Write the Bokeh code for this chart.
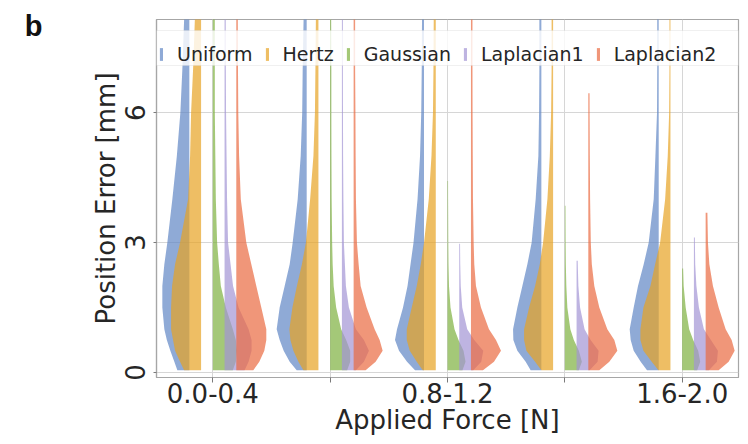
import numpy as np
from bokeh.plotting import figure
from bokeh.models import (ColumnDataSource, FixedTicker, Legend, LegendItem,
                          LinearAxis, Range1d, BoxAnnotation)
from bokeh.embed import file_html
from bokeh.resources import INLINE

# ---------------- data ----------------
force_bins = ["0.0-0.4", "0.4-0.8", "0.8-1.2", "1.2-1.6", "1.6-2.0"]
shown_tick_labels = ["0.0-0.4", "", "0.8-1.2", "", "1.6-2.0"]
models = ["Uniform", "Hertz", "Gaussian", "Laplacian1", "Laplacian2"]
y_ticks = [0, 3, 6]
panel_letter = "b"

# error levels [mm] at which the half-violin density widths were read
err_levels = [0.05, 0.25, 0.5, 0.75, 1.0, 1.5, 2.0, 2.5, 3.0, 4.0, 5.0, 6.0, 7.0, 8.3]

# density (half-width) profiles, one list per force bin
uniform_density = [
    [12, 15, 19, 22.5, 25, 27, 27, 25, 22, 17, 12.5, 9, 7, 5],
    [10, 17, 23, 27, 30, 27, 22, 17, 14, 9, 6, 4.5, 4, 3],
    [9, 17, 25, 29, 27, 21, 16.5, 13.5, 10.5, 6.5, 4, 2.8, 2.3, 2],
    [10.7, 15.7, 24, 28, 28.3, 24, 19, 14, 9.7, 5.7, 3, 2.3, 2, 2],
    [11.7, 18, 25, 28, 29, 25, 20.7, 15, 10, 5, 3.3, 1.7, 1.5, 1.5],
]
hertz_density = [
    [17, 21, 26, 28, 30, 30, 29, 26, 21, 13, 11, 10, 8, 6],
    [15, 20, 25, 28, 29, 26, 21.5, 16.5, 12.5, 8.3, 5, 3.5, 3, 2.5],
    [13, 19, 26, 29, 29, 24, 19, 15, 11.7, 7, 4.3, 2.8, 2.3, 2],
    [11.7, 18, 26.7, 29, 29, 24, 18, 13.3, 10, 5.7, 3.3, 2, 1.5, 1.5],
    [12, 18.7, 27, 30, 30, 27, 20, 15.3, 10.3, 5.3, 2.7, 1.3, 1, 1],
]
gaussian_density = [
    [20, 23, 24, 23, 20, 13, 8, 6, 4.3, 3, 2.5, 2, 2, 2],
    [17, 20, 20, 16, 11, 6, 3.5, 2.5, 2, 1.5, 1.3, 1.2, 1.2, 1],
    [15, 18, 16, 11, 7, 3, 1.5, 1, 0.8, 0.6, 0.5],
    [14, 17, 14, 9, 5.5, 2.5, 1.5, 1, 0.8, 0.6],
    [15, 18, 16, 11, 7, 3.5, 1.5, 0.8],
]
laplacian1_density = [
    [20, 24, 27, 27, 24, 14, 8.5, 6, 3.5, 2.5, 2, 1.5, 1.3, 1.2],
    [14, 22, 27, 22, 14, 7, 4, 3, 2, 1.5, 1.2, 1.1, 1, 1],
    [14, 22, 24, 15, 8, 3, 1.5, 1, 0.8],
    [13, 21, 22, 14, 8, 3.5, 1.8, 1.2, 1.0],
    [15, 23, 24, 17, 10, 5, 2.5, 1.3, 1.0, 0.8],
]
laplacian2_density = [
    [17, 23, 28, 30, 30, 25, 20, 15, 10, 4.5, 2.8, 2, 1.7, 1.5],
    [12, 22, 29, 26, 21, 13, 7, 5, 3.3, 2.3, 2, 1.8, 1.5, 1.5],
    [12, 23, 30, 25, 18, 10, 5, 3.3, 2.7, 2, 1.8, 1.6, 1.5, 1.5],
    [11, 21, 29, 26, 19, 11, 6, 3.5, 2.5, 1.8, 1.5, 1.3, 1.2],
    [13, 23, 29, 26, 20, 13, 7.3, 3.7, 2.3, 1.5],
]
# largest error of each violin [mm] (8.3 = runs past the top of the axis)
uniform_max = [8.3, 8.3, 8.3, 8.3, 8.3]
hertz_max = [8.3, 8.3, 8.3, 8.3, 8.3]
gaussian_max = [8.3, 8.3, 4.42, 3.85, 2.4]
laplacian1_max = [8.3, 8.3, 2.97, 2.58, 3.12]
laplacian2_max = [8.3, 8.3, 8.3, 6.45, 3.69]

# ---------------- styling ----------------
colors = ["#5f86c4", "#e7a222", "#7db03e", "#a294d4", "#ea6a40"]
offsets = [-0.2, -0.1, 0.0, 0.1, 0.2]
sides = [-1, -1, 1, 1, 1]
DENS_SCALE = 1.0 / 117.25
FONT = "DejaVu Sans"
TXT = "#262626"
X0, X1, Y0, Y1 = -0.48, 4.48, -0.115, 8.15

all_density = [uniform_density, hertz_density, gaussian_density,
               laplacian1_density, laplacian2_density]
all_max = [uniform_max, hertz_max, gaussian_max, laplacian1_max, laplacian2_max]


def half_violin(center, side, dens, ymax):
    lv = np.array(err_levels[:len(dens)], dtype=float)
    d = np.array(dens, dtype=float)
    mask = lv < ymax
    ys = list(lv[mask]) + [ymax]
    ws = list(d[mask]) + [float(np.interp(ymax, lv, d))]
    xo = [center + side * w * DENS_SCALE for w in ws]
    xs = [center] + xo + [center]
    yy = [ys[0]] + ys + [ymax]
    return xs, yy


p = figure(width=740, height=442, output_backend="svg", toolbar_location=None,
           x_range=Range1d(X0, X1), y_range=Range1d(Y0, Y1),
           min_border_left=156, min_border_right=2, min_border_top=19,
           min_border_bottom=65)
p.background_fill_color = "white"
p.border_fill_color = "white"
p.outline_line_color = "#a6a6a6"
p.outline_line_width = 1.2

renderers = []
for k, m in enumerate(models):
    xs_all, ys_all = [], []
    for g in range(len(force_bins)):
        xs, ys = half_violin(g + offsets[k], sides[k], all_density[k][g], all_max[k][g])
        xs_all.append(xs)
        ys_all.append(ys)
    src = ColumnDataSource(dict(xs=xs_all, ys=ys_all))
    r = p.patches("xs", "ys", source=src, fill_color=colors[k], fill_alpha=0.7,
                  line_color=None)
    renderers.append(r)

# grids
p.xgrid.ticker = FixedTicker(ticks=list(range(len(force_bins))))
p.ygrid.ticker = FixedTicker(ticks=y_ticks)
for gr in (p.xgrid, p.ygrid):
    gr.grid_line_color = "#d6d6d6"
    gr.grid_line_width = 1

# x axis
xa = p.xaxis[0]
xa.ticker = FixedTicker(ticks=list(range(len(force_bins))))
xa.major_label_overrides = {i: lab for i, lab in enumerate(shown_tick_labels)}
xa.axis_label = "Applied Force [N]"
xa.minor_tick_line_color = None
xa.major_tick_in = 0
xa.major_tick_out = 5
xa.major_label_standoff = 0
xa.axis_label_standoff = -1

# y axis
ya = p.yaxis[0]
ya.ticker = FixedTicker(ticks=y_ticks)
ya.axis_label = "Position Error [mm]"
ya.major_label_orientation = "vertical"
ya.minor_tick_line_color = None
ya.major_tick_in = 0
ya.major_tick_out = 3
ya.major_label_standoff = 8
ya.axis_label_standoff = 2

for ax in (xa, ya):
    ax.axis_line_color = "#a6a6a6"
    ax.axis_line_width = 1.2
    ax.major_tick_line_color = "#7a7a7a"
    ax.major_label_text_font = FONT
    ax.major_label_text_font_size = "26px"
    ax.major_label_text_color = TXT
    ax.axis_label_text_font = FONT
    ax.axis_label_text_font_size = "26px"
    ax.axis_label_text_font_style = "normal"
    ax.axis_label_text_color = TXT

# legend frame spanning the full width (expanded legend)
p.add_layout(BoxAnnotation(left=X0, right=X1, bottom=7.088, top=7.896,
                           fill_color="white", fill_alpha=0.8,
                           line_color="#cccccc", line_width=1))

legend = Legend(items=[LegendItem(label=m, renderers=[r]) for m, r in zip(models, renderers)],
                orientation="horizontal", location=(3, 312), margin=0,
                padding=7, spacing=12, label_standoff=14,
                glyph_width=4, glyph_height=16, label_height=21,
                label_text_font=FONT, label_text_font_size="19px",
                label_text_color=TXT, border_line_color=None,
                background_fill_alpha=0.0)
p.add_layout(legend)

# panel letter, drawn as the single label of an extra (invisible) left axis
letter_axis = LinearAxis(ticker=FixedTicker(ticks=[8]),
                         major_label_overrides={8: panel_letter},
                         axis_line_color=None, major_tick_line_color=None,
                         minor_tick_line_color=None, major_tick_in=0,
                         major_tick_out=0, major_label_standoff=45,
                         major_label_text_font="Liberation Sans",
                         major_label_text_font_style="bold",
                         major_label_text_font_size="29px",
                         major_label_text_color="#111111")
p.add_layout(letter_axis, "left")

open("out.html", "w").write(file_html(p, INLINE))
